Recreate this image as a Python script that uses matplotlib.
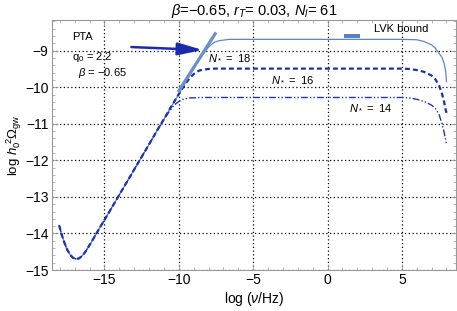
import matplotlib
matplotlib.use('Agg')
import matplotlib.pyplot as plt
from matplotlib.ticker import MultipleLocator

plt.rcParams['font.family'] = ['Liberation Sans', 'DejaVu Sans']
plt.rcParams['mathtext.fontset'] = 'custom'
plt.rcParams['mathtext.rm'] = 'Liberation Sans'
plt.rcParams['mathtext.it'] = 'Liberation Sans:italic'

# ---------------------------------------------------------------- #
#                 values                    #
# ---------------------------------------------------------------- #

# low-frequency part, common to all three curves
x_common = [-18.05, -17.9, -17.7, -17.5, -17.3, -17.1, -16.9, -16.7, -16.5, -16.3,
            -16.1, -15.9, -15.7, -15.5, -15.3, -15.0, -14.0, -13.0, -12.0, -11.6]
y_common = [-13.78, -14.0, -14.25, -14.45, -14.59, -14.67, -14.70, -14.68, -14.61, -14.51,
            -14.38, -14.25, -14.11, -13.97, -13.83, -13.63, -12.94, -12.25, -11.56, -11.28]

# N* = 18 (solid)
x_n18 = [-11.4, -11.0, -10.6, -10.2, -9.8, -9.4, -9.0, -8.8, -8.6, -8.4, -8.2, -8.0,
         -7.8, -7.6, -7.4, -7.2, -7.0, -6.6, -6.0, -5.0, 0.0, 5.0, 6.0, 6.5, 7.0,
         7.25, 7.5, 7.7, 7.85, 7.95, 8.0]
y_n18 = [-11.14, -10.87, -10.59, -10.32, -10.04, -9.76, -9.49, -9.36, -9.23, -9.11, -9.00, -8.90,
         -8.83, -8.77, -8.74, -8.72, -8.71, -8.69, -8.69, -8.69, -8.69, -8.69, -8.70, -8.75, -8.84,
         -8.93, -9.07, -9.18, -9.36, -9.58, -9.85]

# N* = 16 (dashed)
x_n16 = [-11.4, -11.0, -10.6, -10.2, -10.0, -9.8, -9.6, -9.4, -9.2, -9.0, -8.8, -8.6,
         -8.4, -8.2, -8.0, -7.6, -7.0, -5.0, 0.0, 5.0, 5.5, 6.0, 6.5, 7.0, 7.25,
         7.5, 7.7, 7.85, 7.95, 8.0]
y_n16 = [-11.14, -10.87, -10.59, -10.32, -10.19, -10.06, -9.93, -9.82, -9.72, -9.64, -9.58, -9.54,
         -9.52, -9.51, -9.50, -9.49, -9.49, -9.49, -9.49, -9.49, -9.50, -9.53, -9.58, -9.68, -9.78,
         -9.95, -10.18, -10.42, -10.62, -10.70]

# N* = 14 (dash-dot)
x_n14 = [-11.4, -11.2, -11.0, -10.8, -10.6, -10.4, -10.2, -10.0, -9.8, -9.6, -9.4, -9.2,
         -9.0, -8.6, -8.0, -5.0, 0.0, 5.0, 5.5, 6.0, 6.5, 7.0, 7.25, 7.5, 7.7,
         7.85, 7.95, 8.0]
y_n14 = [-11.15, -11.01, -10.88, -10.76, -10.64, -10.53, -10.45, -10.39, -10.34, -10.32, -10.30, -10.29,
         -10.29, -10.28, -10.28, -10.28, -10.28, -10.28, -10.29, -10.33, -10.39, -10.49, -10.58, -10.74, -11.0,
         -11.25, -11.45, -11.55]

# PTA power-law segment and LVK bound
x_pta = [-10.05, -7.5]
y_pta = [-10.13, -8.50]
x_lvk = [1.13, 2.18]
y_lvk = [-8.61, -8.61]

xticks = [-15, -10, -5, 0, 5]
yticks = [-15, -14, -13, -12, -11, -10, -9]

# ---------------------------------------------------------------- #
#                            the plot                              #
# ---------------------------------------------------------------- #

fig = plt.figure(figsize=(4.57, 3.11), dpi=100)
ax = fig.add_axes([0.1138, 0.1318, 0.8840, 0.8039])

c18 = '#5a87cc'
c16 = '#1b2fb3'
c14 = '#2436a8'

ax.plot(x_common + x_n18, y_common + y_n18, color=c18, lw=0.9, zorder=3)
ax.plot(x_common + x_n16, y_common + y_n16, color=c16, lw=1.6, linestyle=(0, (2.2, 1.4)), zorder=4)
ax.plot(x_common + x_n14, y_common + y_n14, color=c14, lw=1.0,
        linestyle=(0, (5, 1.5, 1, 1.5, 1, 1.5)), zorder=4)

ax.plot(x_pta, y_pta, color='#6c8fc9', lw=2.3, solid_capstyle='butt', zorder=5)
ax.plot(x_lvk, y_lvk, color='#5b82c2', lw=2.9, solid_capstyle='butt', zorder=5)

ax.annotate('', xy=(-8.40, -8.98), xytext=(-13.19, -8.90),
            arrowprops=dict(arrowstyle='-|>,head_length=1.5,head_width=0.38',
                            lw=1.8, color='#1a2bb0', shrinkA=0, shrinkB=0), zorder=6)

fs = 8
ax.text(-17.21, -8.62, 'PTA', fontsize=fs, va='center', ha='left')
ax.text(-17.21, -9.16, r'q$_0$ = 2.2', fontsize=fs, va='center', ha='left')
ax.text(-16.77, -9.62, r'$\beta$ = −0.65', fontsize=fs, va='center', ha='left')
ax.text(3.1, -8.41, 'LVK bound', fontsize=fs, va='center', ha='left')
ax.text(-8.06, -9.21, r'$N_*$ =  18', fontsize=fs, va='center', ha='left')
ax.text(-3.81, -9.80, r'$N_*$ =  16', fontsize=fs, va='center', ha='left')
ax.text(1.43, -10.56, r'$N_*$ =  14', fontsize=fs, va='center', ha='left')

ax.set_xlim(-18.53, 8.64)
ax.set_ylim(-15.0, -8.16)
ax.set_xticks(xticks)
ax.set_yticks(yticks)
ax.set_xticklabels(['−15', '−10', '−5', '0', '5'])
ax.set_yticklabels(['−15', '−14', '−13', '−12', '−11', '−10', '−9'])
ax.xaxis.set_minor_locator(MultipleLocator(1))
ax.yaxis.set_minor_locator(MultipleLocator(0.2))
ax.tick_params(which='both', direction='in', top=True, right=True, color='#999999', labelsize=10, pad=2.5)
ax.tick_params(which='major', length=4, width=0.6)
ax.tick_params(which='minor', length=2, width=0.5)
for s in ax.spines.values():
    s.set_color('#999999')
    s.set_linewidth(0.8)

ax.grid(True, which='major', color='black', linestyle=(0, (1, 2)), lw=0.9)

ax.set_xlabel(r'log ($\nu$/Hz)', fontsize=10, labelpad=2)
ax.set_ylabel(r'log $h_0^{\ 2}\Omega_{\rm gw}$', fontsize=9.5, labelpad=1)
ax.set_title(r'$\beta$=−0.65, $r_T$= 0.03, $N_l$= 61', fontsize=10.5, pad=3)

plt.savefig('out.png', dpi=100)
plt.close()
